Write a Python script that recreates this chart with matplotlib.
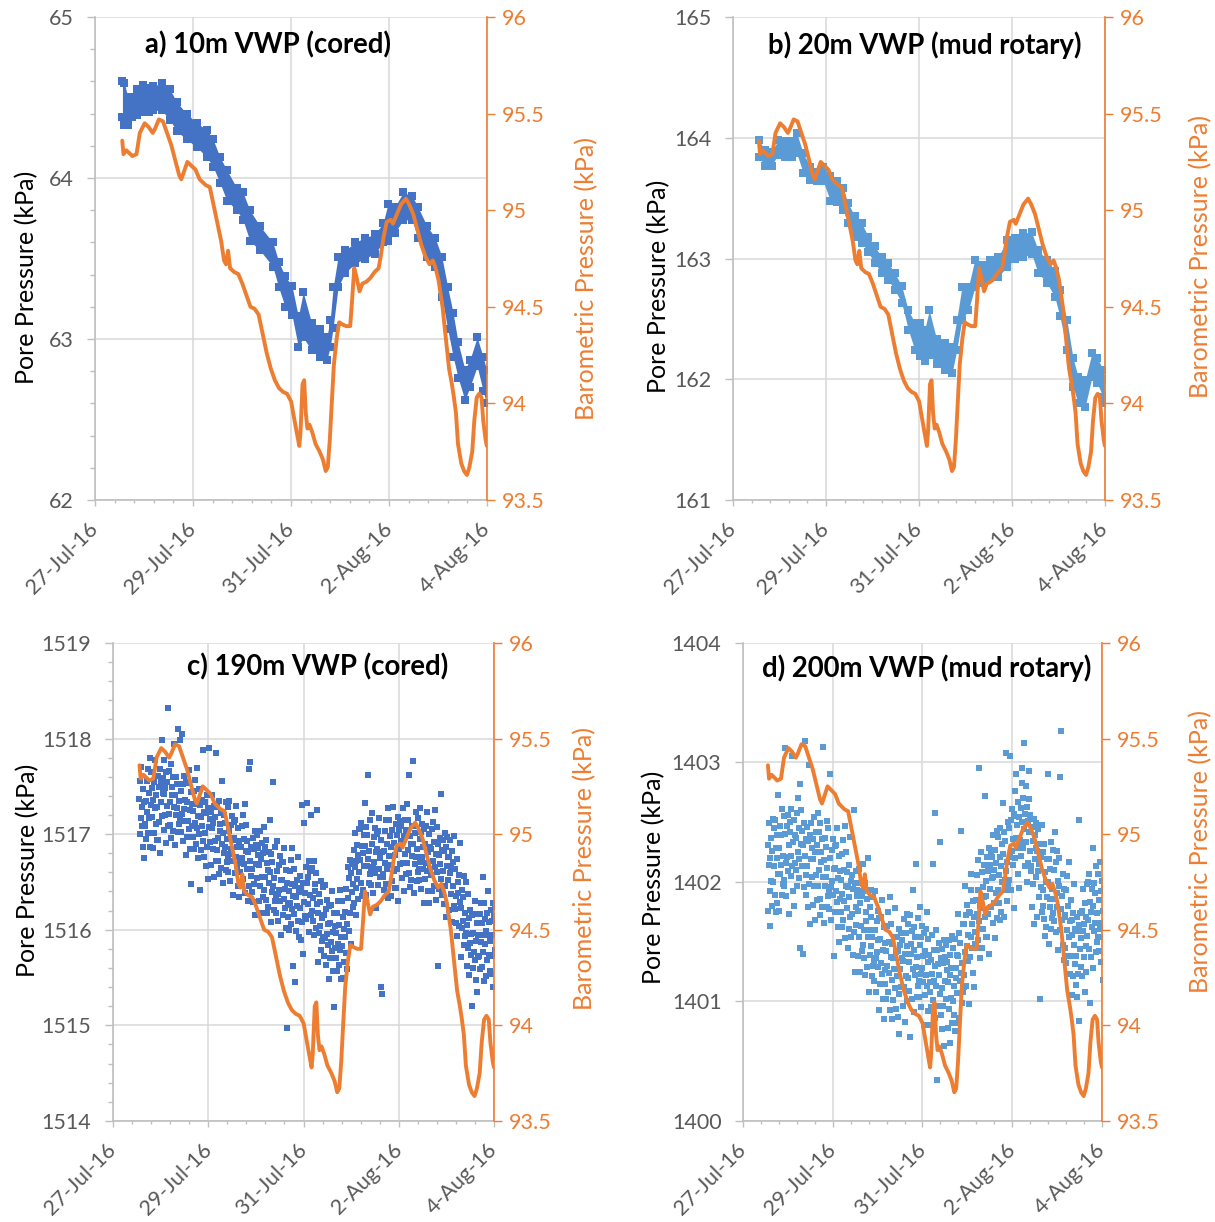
import numpy as np
import pandas as pd
import matplotlib
matplotlib.use("Agg")
import matplotlib.pyplot as plt
import matplotlib.dates as mdates
from matplotlib.ticker import FixedLocator, FormatStrFormatter, MultipleLocator

plt.rcParams['font.family'] = ['Lato', 'DejaVu Sans']

# ---------------------------------------------------------------- data
ORIGIN = pd.Timestamp('2016-07-27')          # day 0 of every time axis

# barometric pressure (days after 27-Jul-16 00:00, kPa)
baro_day = [0.556, 0.581, 0.640, 0.764, 0.847, 0.914, 1.013, 1.096, 1.179, 1.221,
            1.304, 1.387, 1.470, 1.553, 1.636, 1.719, 1.761, 1.844, 1.885, 1.968,
            2.051, 2.135, 2.259, 2.342, 2.409, 2.492, 2.575, 2.633, 2.674, 2.716,
            2.757, 2.841, 2.924, 3.007, 3.090, 3.173, 3.256, 3.339, 3.422, 3.505,
            3.588, 3.671, 3.754, 3.837, 3.920, 4.003, 4.045, 4.103, 4.169, 4.194,
            4.236, 4.269, 4.302, 4.336, 4.377, 4.435, 4.502, 4.585, 4.651, 4.709,
            4.751, 4.792, 4.834, 4.875, 4.934, 4.983, 5.042, 5.125, 5.208, 5.249,
            5.291, 5.332, 5.399, 5.457, 5.540, 5.623, 5.706, 5.789, 5.831, 5.889,
            5.955, 6.038, 6.080, 6.163, 6.246, 6.346, 6.412, 6.495, 6.578, 6.661,
            6.744, 6.827, 6.894, 6.952, 7.010, 7.093, 7.159, 7.226, 7.284, 7.326,
            7.367, 7.409, 7.475, 7.533, 7.591, 7.641, 7.699, 7.741, 7.791, 7.841,
            7.890, 7.924, 7.973, 7.998]
baro_kpa = [95.36, 95.29, 95.31, 95.28, 95.29, 95.40, 95.45, 95.43, 95.40, 95.42,
            95.47, 95.46, 95.40, 95.34, 95.26, 95.18, 95.16, 95.22, 95.25, 95.23,
            95.21, 95.16, 95.13, 95.12, 95.04, 94.94, 94.84, 94.74, 94.72, 94.79,
            94.70, 94.68, 94.67, 94.62, 94.56, 94.50, 94.49, 94.46, 94.36, 94.26,
            94.18, 94.12, 94.08, 94.06, 94.05, 94.01, 93.95, 93.87, 93.78, 93.85,
            94.10, 94.12, 93.95, 93.87, 93.89, 93.85, 93.79, 93.75, 93.71, 93.65,
            93.67, 93.81, 94.01, 94.20, 94.34, 94.42, 94.41, 94.40, 94.40, 94.54,
            94.70, 94.66, 94.58, 94.62, 94.63, 94.65, 94.68, 94.70, 94.76, 94.86,
            94.94, 94.95, 94.93, 94.98, 95.03, 95.06, 95.03, 94.98, 94.90, 94.82,
            94.76, 94.72, 94.74, 94.70, 94.64, 94.50, 94.34, 94.18, 94.10, 94.03,
            93.95, 93.79, 93.69, 93.65, 93.63, 93.67, 93.75, 93.91, 94.03, 94.05,
            94.03, 93.91, 93.81, 93.78]

# 10 m VWP (cored): lower / upper edge of the reading band
a_day = [0.56, 0.60, 0.67, 0.76, 0.85, 0.98, 1.10, 1.19, 1.36, 1.53,
         1.67, 1.87, 2.08, 2.28, 2.41, 2.55, 2.69, 2.89, 3.02, 3.16,
         3.37, 3.63, 3.75, 3.88, 4.02, 4.15, 4.25, 4.42, 4.59, 4.73,
         4.80, 4.86, 4.96, 5.10, 5.31, 5.51, 5.71, 5.88, 5.98, 6.12,
         6.29, 6.47, 6.59, 6.78, 6.94, 7.08, 7.20, 7.31, 7.41, 7.55,
         7.65, 7.80, 7.92, 7.99]
a_high = [64.60, 64.59, 64.50, 64.50, 64.55, 64.58, 64.56, 64.57, 64.59, 64.55,
          64.47, 64.40, 64.34, 64.30, 64.24, 64.13, 64.05, 63.94, 63.91, 63.80,
          63.70, 63.60, 63.48, 63.39, 63.33, 63.14, 63.29, 63.10, 63.06, 63.01,
          63.12, 63.32, 63.51, 63.55, 63.60, 63.63, 63.65, 63.72, 63.84, 63.82,
          63.91, 63.89, 63.82, 63.70, 63.63, 63.51, 63.32, 63.16, 62.98, 62.81,
          62.87, 63.01, 62.89, 62.81]
a_low = [64.38, 64.33, 64.33, 64.38, 64.39, 64.41, 64.41, 64.42, 64.42, 64.36,
         64.29, 64.24, 64.19, 64.13, 64.07, 63.97, 63.86, 63.80, 63.74, 63.61,
         63.55, 63.45, 63.32, 63.20, 63.15, 62.95, 63.01, 62.93, 62.89, 62.87,
         62.95, 63.07, 63.32, 63.41, 63.47, 63.50, 63.53, 63.60, 63.61, 63.66,
         63.74, 63.74, 63.63, 63.51, 63.45, 63.26, 63.06, 62.89, 62.76, 62.62,
         62.70, 62.83, 62.68, 62.60]

# 20 m VWP (mud rotary): lower / upper edge of the reading band
b_day = [0.55, 0.69, 0.83, 0.97, 1.12, 1.26, 1.37, 1.51, 1.66, 1.80,
         1.94, 2.09, 2.23, 2.37, 2.47, 2.62, 2.77, 2.91, 3.05, 3.20,
         3.34, 3.48, 3.63, 3.77, 3.91, 4.02, 4.12, 4.22, 4.38, 4.56,
         4.71, 4.81, 4.92, 5.06, 5.20, 5.35, 5.53, 5.70, 5.89, 6.06,
         6.24, 6.42, 6.56, 6.75, 6.92, 7.03, 7.18, 7.31, 7.42, 7.57,
         7.72, 7.83, 7.96, 8.00]
b_high = [163.98, 163.90, 163.88, 163.98, 163.97, 163.97, 164.04, 163.87, 163.76, 163.72,
          163.76, 163.68, 163.64, 163.58, 163.46, 163.35, 163.29, 163.18, 163.10, 163.01,
          162.96, 162.88, 162.77, 162.57, 162.47, 162.47, 162.41, 162.57, 162.33, 162.30,
          162.27, 162.49, 162.76, 162.76, 162.99, 162.95, 162.99, 163.01, 163.15, 163.17,
          163.21, 163.22, 163.07, 162.99, 162.90, 162.74, 162.49, 162.18, 162.02, 161.99,
          162.22, 162.18, 162.08, 162.00]
b_low = [163.84, 163.77, 163.77, 163.86, 163.84, 163.84, 163.87, 163.71, 163.65, 163.64,
         163.64, 163.48, 163.47, 163.40, 163.29, 163.18, 163.13, 163.05, 162.96, 162.88,
         162.82, 162.74, 162.63, 162.41, 162.24, 162.19, 162.15, 162.20, 162.13, 162.08,
         162.05, 162.24, 162.49, 162.57, 162.76, 162.80, 162.84, 162.85, 162.93, 163.00,
         163.01, 163.04, 162.88, 162.80, 162.68, 162.52, 162.24, 161.94, 161.80, 161.77,
         162.02, 161.97, 161.85, 161.80]

# deep VWPs: one reading every 15 minutes from the first logged time
deep_first_day = 0.55
deep_step_min = 15

# 190 m VWP (cored), kPa (each line = 3 hours)
c_pore = [
    1517.37, 1517.00, 1517.56, 1517.17, 1517.70, 1517.08, 1517.28, 1516.87, 1517.47, 1516.75, 1517.34, 1517.11,
    1517.08, 1517.35, 1516.95, 1517.56, 1517.23, 1517.68, 1517.01, 1517.43, 1517.17, 1517.80, 1516.86, 1517.30,
    1517.65, 1517.18, 1517.48, 1516.85, 1517.36, 1517.01, 1517.54, 1517.27, 1517.78, 1517.11, 1517.41, 1516.94,
    1517.28, 1517.61, 1516.94, 1517.49, 1517.13, 1517.68, 1516.80, 1517.54, 1517.34, 1517.98, 1517.19, 1517.43,
    1517.59, 1517.04, 1517.42, 1517.77, 1517.20, 1517.48, 1516.91, 1517.65, 1517.29, 1517.54, 1517.08, 1518.32,
    1517.21, 1517.66, 1517.34, 1517.10, 1517.73, 1516.96, 1517.49, 1517.41, 1517.03, 1517.60, 1517.28, 1517.94,
    1517.41, 1516.89, 1517.60, 1517.20, 1517.52, 1517.27, 1518.10, 1517.02, 1517.35, 1517.11, 1517.98, 1517.15,
    1517.02, 1517.45, 1518.05, 1517.21, 1516.93, 1517.52, 1517.26, 1517.61, 1517.14, 1517.36, 1516.78, 1517.55,
    1517.34, 1516.97, 1517.53, 1517.14, 1517.67, 1517.05, 1517.25, 1516.84, 1517.44, 1516.48, 1517.31, 1517.08,
    1516.97, 1517.24, 1516.84, 1517.45, 1517.12, 1517.57, 1516.90, 1517.32, 1517.06, 1517.69, 1516.75, 1517.19,
    1517.47, 1517.00, 1517.30, 1516.42, 1517.18, 1516.83, 1517.36, 1517.09, 1517.88, 1516.93, 1517.23, 1516.76,
    1517.01, 1517.34, 1516.67, 1517.22, 1516.86, 1517.41, 1516.53, 1517.27, 1517.07, 1517.90, 1516.92, 1517.16,
    1517.23, 1516.68, 1517.06, 1517.41, 1516.84, 1517.12, 1516.55, 1517.29, 1516.93, 1517.18, 1516.72, 1517.85,
    1516.83, 1517.28, 1516.96, 1516.72, 1517.35, 1516.58, 1517.11, 1517.03, 1516.65, 1517.22, 1516.90, 1517.56,
    1517.01, 1516.49, 1517.20, 1516.80, 1517.12, 1516.87, 1517.34, 1516.62, 1516.95, 1516.71, 1517.28, 1516.75,
    1516.60, 1517.03, 1517.35, 1516.79, 1516.51, 1517.10, 1516.84, 1517.19, 1516.72, 1516.94, 1516.36, 1517.13,
    1516.96, 1516.59, 1517.15, 1516.76, 1517.29, 1516.67, 1516.87, 1516.46, 1517.06, 1516.34, 1516.93, 1516.70,
    1516.60, 1516.87, 1516.47, 1517.08, 1516.75, 1517.20, 1516.53, 1516.95, 1516.69, 1517.32, 1516.38, 1516.82,
    1517.10, 1516.63, 1516.93, 1516.30, 1516.81, 1516.46, 1517.68, 1516.72, 1517.75, 1516.56, 1516.86, 1516.39,
    1516.63, 1516.96, 1516.29, 1516.84, 1516.48, 1517.03, 1516.15, 1516.89, 1516.69, 1516.99, 1516.54, 1516.78,
    1516.85, 1516.30, 1516.68, 1517.03, 1516.46, 1516.74, 1516.17, 1516.91, 1516.55, 1516.80, 1516.34, 1517.07,
    1516.42, 1516.87, 1516.55, 1516.31, 1516.94, 1516.17, 1516.70, 1516.62, 1516.24, 1516.81, 1516.49, 1517.15,
    1516.60, 1516.08, 1516.79, 1516.39, 1516.71, 1516.46, 1517.55, 1516.21, 1516.54, 1516.30, 1516.87, 1516.34,
    1516.18, 1516.61, 1516.93, 1516.37, 1516.09, 1516.68, 1516.42, 1516.77, 1516.30, 1516.52, 1515.94, 1516.71,
    1516.52, 1516.15, 1516.71, 1516.32, 1516.85, 1516.23, 1516.43, 1516.02, 1516.62, 1514.97, 1516.49, 1516.26,
    1516.13, 1516.40, 1516.00, 1516.61, 1516.28, 1516.73, 1516.06, 1516.48, 1516.22, 1516.85, 1515.62, 1516.35,
    1516.63, 1516.16, 1516.46, 1515.45, 1516.34, 1515.99, 1516.52, 1516.25, 1516.76, 1516.09, 1516.39, 1515.92,
    1516.23, 1516.56, 1515.89, 1516.44, 1516.08, 1517.30, 1515.75, 1516.49, 1516.29, 1517.12, 1516.14, 1516.38,
    1516.66, 1516.11, 1516.49, 1517.33, 1516.27, 1516.55, 1515.98, 1516.72, 1516.36, 1516.61, 1516.15, 1517.20,
    1516.20, 1516.65, 1516.33, 1516.09, 1516.72, 1515.95, 1516.48, 1516.40, 1516.02, 1516.59, 1516.27, 1517.25,
    1516.18, 1515.66, 1516.37, 1515.97, 1516.29, 1516.04, 1516.51, 1515.79, 1516.12, 1515.88, 1516.45, 1515.92,
    1515.72, 1516.15, 1516.47, 1515.91, 1515.63, 1516.22, 1515.96, 1516.31, 1515.84, 1516.06, 1515.48, 1516.25,
    1516.07, 1515.70, 1516.26, 1515.87, 1516.40, 1515.78, 1515.98, 1515.57, 1516.17, 1515.19, 1516.04, 1515.81,
    1515.70, 1515.97, 1515.57, 1516.18, 1515.85, 1516.30, 1515.63, 1516.05, 1515.79, 1516.42, 1515.48, 1515.92,
    1516.30, 1515.83, 1516.13, 1515.50, 1516.01, 1515.66, 1516.19, 1515.92, 1516.43, 1515.76, 1516.06, 1515.59,
    1516.33, 1516.66, 1515.99, 1516.54, 1516.18, 1516.73, 1515.85, 1516.59, 1516.39, 1516.69, 1516.24, 1516.48,
    1516.83, 1516.28, 1516.66, 1517.01, 1516.44, 1516.72, 1516.15, 1516.89, 1516.53, 1516.78, 1516.32, 1517.05,
    1516.60, 1517.05, 1516.73, 1516.49, 1517.12, 1516.35, 1516.88, 1516.80, 1516.42, 1516.99, 1516.67, 1517.33,
    1516.88, 1516.36, 1517.07, 1516.67, 1516.99, 1516.74, 1517.62, 1516.49, 1516.82, 1516.58, 1517.15, 1516.62,
    1516.47, 1516.90, 1517.22, 1516.66, 1516.38, 1516.97, 1516.71, 1517.06, 1516.59, 1516.81, 1516.23, 1517.00,
    1516.84, 1516.47, 1517.03, 1516.64, 1517.17, 1516.55, 1516.75, 1515.40, 1516.94, 1515.33, 1516.81, 1516.58,
    1516.55, 1516.82, 1516.42, 1517.03, 1516.70, 1517.15, 1516.48, 1516.90, 1516.64, 1517.27, 1516.33, 1516.77,
    1517.15, 1516.68, 1516.98, 1516.35, 1516.86, 1516.51, 1517.04, 1516.77, 1517.28, 1516.61, 1516.91, 1516.44,
    1516.78, 1517.11, 1516.44, 1516.99, 1516.63, 1517.18, 1516.30, 1517.04, 1516.84, 1517.14, 1516.69, 1516.93,
    1517.09, 1516.54, 1516.92, 1517.27, 1516.70, 1516.98, 1516.41, 1517.15, 1516.79, 1517.04, 1516.58, 1517.31,
    1516.70, 1517.15, 1516.83, 1516.59, 1517.62, 1516.45, 1516.98, 1516.90, 1516.52, 1517.09, 1516.77, 1517.76,
    1516.90, 1516.38, 1517.09, 1516.69, 1517.01, 1516.76, 1517.23, 1516.51, 1516.84, 1516.60, 1517.17, 1516.64,
    1516.52, 1516.95, 1517.27, 1516.71, 1516.43, 1517.02, 1516.76, 1517.11, 1516.64, 1516.86, 1516.28, 1517.05,
    1516.90, 1516.53, 1517.09, 1516.70, 1517.23, 1516.61, 1516.81, 1516.40, 1517.00, 1516.28, 1516.87, 1516.64,
    1516.57, 1516.84, 1516.40, 1517.05, 1516.72, 1517.13, 1516.46, 1516.92, 1516.66, 1517.25, 1516.31, 1516.79,
    1517.07, 1516.60, 1516.90, 1515.62, 1516.78, 1516.43, 1516.96, 1516.69, 1517.42, 1516.53, 1516.83, 1516.36,
    1516.61, 1516.94, 1516.27, 1516.82, 1516.46, 1517.01, 1516.13, 1516.87, 1516.67, 1516.97, 1516.52, 1516.76,
    1516.76, 1516.21, 1516.59, 1516.94, 1516.37, 1516.65, 1516.08, 1516.82, 1516.46, 1516.71, 1516.25, 1516.98,
    1516.22, 1516.63, 1516.35, 1516.07, 1516.74, 1515.93, 1516.50, 1516.38, 1516.04, 1516.57, 1516.29, 1516.91,
    1516.23, 1515.71, 1516.42, 1516.02, 1516.34, 1516.09, 1516.56, 1515.84, 1516.17, 1515.93, 1516.50, 1515.97,
    1515.62, 1516.05, 1516.37, 1515.81, 1515.53, 1516.12, 1515.86, 1516.21, 1515.74, 1515.96, 1515.20, 1516.15,
    1515.97, 1515.60, 1516.16, 1515.77, 1516.30, 1515.68, 1515.88, 1515.47, 1516.07, 1515.35, 1515.94, 1515.71,
    1515.72, 1515.95, 1515.59, 1516.16, 1515.87, 1516.28, 1515.61, 1516.07, 1515.77, 1516.55, 1515.46, 1515.94,
    1516.28, 1515.85, 1516.11, 1515.52, 1515.99, 1515.68, 1516.17, 1515.94, 1516.41, 1515.74, 1516.08, 1515.57,
    1515.88, 1516.21, 1515.54, 1516.09, 1515.73, 1516.28, 1515.40, 1516.14, 1515.94, 1516.24, 1515.79, 1516.03,
]

# 200 m VWP (mud rotary), kPa (each line = 3 hours)
d_pore = [
    1402.31, 1401.76, 1402.14, 1402.49, 1401.92, 1402.20, 1401.63, 1402.37, 1402.01, 1402.26, 1401.80, 1402.53,
    1402.00, 1402.45, 1402.13, 1401.89, 1402.52, 1401.75, 1402.28, 1402.20, 1401.82, 1402.39, 1402.07, 1402.73,
    1402.28, 1401.76, 1402.47, 1402.07, 1402.39, 1402.14, 1402.61, 1401.89, 1402.22, 1401.98, 1402.55, 1402.02,
    1401.97, 1402.40, 1403.12, 1402.16, 1401.88, 1402.47, 1402.21, 1402.56, 1402.09, 1402.31, 1401.73, 1402.50,
    1402.42, 1402.05, 1402.61, 1402.22, 1403.05, 1402.13, 1402.33, 1401.92, 1402.52, 1401.80, 1402.39, 1402.16,
    1402.10, 1402.37, 1401.97, 1402.58, 1402.25, 1402.70, 1402.03, 1402.45, 1402.19, 1402.82, 1401.45, 1402.32,
    1402.60, 1402.13, 1402.43, 1401.40, 1402.31, 1401.96, 1402.49, 1402.22, 1403.18, 1402.06, 1402.36, 1401.89,
    1402.13, 1402.46, 1401.79, 1402.34, 1401.98, 1402.98, 1401.65, 1402.39, 1402.19, 1402.49, 1402.04, 1402.28,
    1402.36, 1401.81, 1402.19, 1402.54, 1401.97, 1402.25, 1401.68, 1402.42, 1402.06, 1402.31, 1401.85, 1402.58,
    1401.97, 1402.42, 1402.10, 1401.86, 1402.49, 1401.72, 1402.25, 1402.17, 1401.79, 1402.36, 1402.04, 1403.13,
    1402.18, 1401.66, 1402.37, 1401.97, 1402.29, 1402.04, 1402.51, 1401.79, 1402.12, 1401.88, 1402.45, 1401.92,
    1401.77, 1402.20, 1402.90, 1401.96, 1401.68, 1402.27, 1402.01, 1402.36, 1401.89, 1402.11, 1401.38, 1402.30,
    1402.12, 1401.75, 1402.31, 1401.92, 1402.45, 1401.83, 1402.03, 1401.62, 1402.22, 1401.50, 1402.09, 1401.86,
    1401.75, 1402.02, 1401.62, 1402.23, 1401.90, 1402.35, 1401.68, 1402.10, 1401.84, 1402.47, 1401.53, 1401.97,
    1402.25, 1401.78, 1402.08, 1401.45, 1401.96, 1401.61, 1402.14, 1401.87, 1402.38, 1401.71, 1402.01, 1401.54,
    1401.73, 1402.06, 1401.39, 1401.94, 1401.58, 1402.60, 1401.25, 1401.99, 1401.79, 1402.09, 1401.64, 1401.88,
    1401.93, 1401.38, 1401.76, 1402.11, 1401.54, 1401.82, 1401.25, 1401.99, 1401.63, 1401.88, 1401.42, 1402.15,
    1401.47, 1401.92, 1401.60, 1401.36, 1401.99, 1401.22, 1401.75, 1401.67, 1401.29, 1401.86, 1401.54, 1402.20,
    1401.60, 1401.08, 1401.79, 1401.39, 1401.71, 1401.46, 1401.93, 1401.21, 1401.54, 1401.30, 1401.87, 1401.34,
    1401.17, 1401.60, 1401.92, 1401.36, 1401.08, 1401.67, 1401.41, 1401.76, 1401.29, 1401.51, 1400.93, 1401.70,
    1401.52, 1401.15, 1401.71, 1401.32, 1401.85, 1401.23, 1401.43, 1401.02, 1401.62, 1400.85, 1401.49, 1401.26,
    1401.15, 1401.42, 1401.02, 1401.63, 1401.30, 1401.75, 1401.08, 1401.50, 1401.24, 1401.87, 1400.93, 1401.37,
    1401.65, 1401.18, 1401.48, 1400.85, 1401.36, 1401.01, 1401.54, 1401.27, 1401.78, 1401.11, 1401.41, 1400.94,
    1401.21, 1401.54, 1400.87, 1401.42, 1401.06, 1401.61, 1400.73, 1401.47, 1401.27, 1401.57, 1401.12, 1401.36,
    1401.51, 1400.96, 1401.34, 1401.69, 1401.12, 1401.40, 1400.83, 1401.57, 1401.21, 1401.46, 1401.00, 1401.73,
    1401.20, 1401.65, 1401.33, 1401.09, 1401.72, 1400.70, 1401.48, 1401.40, 1401.02, 1401.59, 1401.27, 1401.93,
    1401.43, 1400.91, 1401.62, 1401.22, 1401.54, 1401.29, 1402.15, 1401.04, 1401.37, 1401.13, 1401.70, 1401.17,
    1401.04, 1401.47, 1401.79, 1401.23, 1400.95, 1401.54, 1401.28, 1401.63, 1401.16, 1401.38, 1400.80, 1401.57,
    1401.42, 1401.05, 1401.61, 1401.22, 1401.75, 1401.13, 1401.33, 1400.92, 1401.52, 1400.80, 1401.39, 1401.16,
    1401.08, 1401.35, 1400.95, 1401.56, 1401.23, 1402.15, 1401.01, 1401.43, 1401.17, 1402.58, 1400.86, 1401.30,
    1401.60, 1401.13, 1401.43, 1400.34, 1401.31, 1400.96, 1401.49, 1401.22, 1402.33, 1401.06, 1401.36, 1400.89,
    1401.11, 1401.44, 1400.77, 1401.32, 1400.96, 1401.51, 1400.63, 1401.37, 1401.17, 1401.47, 1401.02, 1401.26,
    1401.33, 1400.78, 1401.16, 1401.51, 1400.94, 1401.22, 1400.65, 1401.39, 1401.03, 1401.28, 1400.82, 1401.55,
    1401.00, 1401.45, 1401.13, 1400.89, 1401.52, 1400.75, 1401.28, 1401.20, 1400.82, 1401.39, 1401.07, 1401.73,
    1401.38, 1400.86, 1401.57, 1401.17, 1401.49, 1401.24, 1402.43, 1400.99, 1401.32, 1401.08, 1401.65, 1401.12,
    1401.22, 1401.65, 1401.97, 1401.41, 1401.13, 1401.72, 1401.46, 1401.81, 1401.34, 1401.56, 1400.98, 1401.75,
    1401.74, 1401.37, 1401.93, 1401.54, 1402.07, 1401.45, 1401.65, 1401.24, 1401.84, 1401.12, 1401.71, 1401.48,
    1401.58, 1401.85, 1401.45, 1402.06, 1401.73, 1402.18, 1401.51, 1401.93, 1401.67, 1402.95, 1401.36, 1401.80,
    1402.25, 1401.78, 1402.08, 1401.45, 1401.96, 1401.61, 1402.14, 1401.87, 1402.72, 1401.71, 1402.01, 1401.54,
    1401.88, 1402.21, 1401.54, 1402.09, 1401.73, 1402.28, 1401.40, 1402.14, 1401.94, 1402.24, 1401.79, 1402.03,
    1402.21, 1401.66, 1402.04, 1402.39, 1401.82, 1402.10, 1401.53, 1402.27, 1401.91, 1402.16, 1401.70, 1402.43,
    1401.93, 1402.38, 1402.06, 1401.82, 1402.45, 1401.68, 1402.21, 1402.13, 1401.75, 1402.32, 1402.00, 1402.66,
    1402.23, 1401.71, 1402.42, 1402.02, 1402.34, 1402.09, 1403.08, 1401.84, 1402.17, 1401.93, 1402.50, 1401.97,
    1402.02, 1402.45, 1403.05, 1402.21, 1401.93, 1402.52, 1402.26, 1402.61, 1402.14, 1402.36, 1401.78, 1402.55,
    1402.57, 1402.20, 1402.76, 1402.37, 1402.90, 1402.28, 1402.48, 1402.07, 1402.67, 1401.95, 1402.54, 1402.31,
    1402.35, 1402.62, 1402.22, 1402.83, 1402.50, 1402.95, 1402.28, 1402.70, 1402.44, 1403.16, 1402.13, 1402.57,
    1402.80, 1402.33, 1402.63, 1402.00, 1402.51, 1402.16, 1402.69, 1402.42, 1402.93, 1402.26, 1402.56, 1402.09,
    1402.13, 1402.46, 1401.79, 1402.34, 1401.98, 1402.53, 1401.65, 1402.39, 1402.19, 1402.49, 1402.04, 1402.28,
    1402.26, 1401.71, 1402.09, 1402.44, 1401.87, 1402.15, 1401.02, 1402.32, 1401.96, 1402.21, 1401.75, 1402.48,
    1401.80, 1402.25, 1401.93, 1401.69, 1402.32, 1401.55, 1402.08, 1402.00, 1401.62, 1402.19, 1401.87, 1402.90,
    1402.00, 1401.48, 1402.19, 1401.79, 1402.11, 1401.86, 1402.33, 1401.61, 1401.94, 1401.70, 1402.27, 1401.74,
    1401.67, 1402.10, 1402.42, 1401.86, 1401.58, 1402.17, 1401.91, 1402.26, 1401.79, 1402.01, 1401.43, 1402.20,
    1401.97, 1401.60, 1402.88, 1401.77, 1403.26, 1401.68, 1401.88, 1401.47, 1402.07, 1401.35, 1401.94, 1401.71,
    1401.45, 1401.72, 1401.32, 1401.93, 1401.60, 1402.05, 1401.38, 1401.80, 1401.54, 1402.17, 1401.23, 1401.67,
    1401.85, 1401.38, 1401.68, 1401.05, 1401.56, 1401.21, 1401.74, 1401.47, 1401.98, 1401.31, 1401.61, 1401.14,
    1401.38, 1401.71, 1401.04, 1401.59, 1401.23, 1402.52, 1400.84, 1401.64, 1401.44, 1401.74, 1401.29, 1401.53,
    1401.76, 1401.21, 1401.59, 1401.94, 1401.37, 1401.65, 1401.08, 1401.82, 1401.46, 1401.71, 1401.25, 1401.98,
    1401.55, 1402.00, 1401.68, 1401.44, 1402.07, 1400.99, 1401.83, 1401.75, 1401.37, 1401.94, 1401.62, 1402.28,
    1401.80, 1401.28, 1401.99, 1401.59, 1401.91, 1401.66, 1402.13, 1401.41, 1401.74, 1401.50, 1402.07, 1401.54,
    1401.42, 1401.85, 1402.17, 1401.61, 1401.33, 1401.92, 1401.66, 1402.01, 1401.54, 1401.76, 1401.18, 1401.95,
]

x_tick_days = [0, 2, 4, 6, 8]

# ---------------------------------------------------------------- helpers
T0 = mdates.date2num(ORIGIN)


def tnum(days):
    """Matplotlib date numbers for offsets (days) from ORIGIN."""
    return T0 + np.asarray(days, dtype=float)


def deep_days(n):
    return deep_first_day + np.arange(n) * deep_step_min / (24 * 60)


ORANGE = '#ED7D31'
GRID = '#D9D9D9'
SPINE = '#BFBFBF'
TICKTXT = '#595959'
DARK_BLUE = '#4472C4'
LIGHT_BLUE = '#5B9BD5'

tick_dates = [ORIGIN + pd.Timedelta(days=d) for d in x_tick_days]
x_tick_labels = [f"{d.day}-{d:%b-%y}" for d in tick_dates]

panels = [
    dict(rect=[0.0782, 0.5908, 0.3226, 0.3953], ylim=(62, 65), minor=True,
         title='a) 10m VWP (cored)', title_xy=(0.128, 0.942), color=DARK_BLUE,
         band=(a_day, a_low, a_high), lab_l=(-0.175, 0.46), lab_r=(1.255, 0.458)),
    dict(rect=[0.6033, 0.5908, 0.3062, 0.3953], ylim=(161, 165), minor=False,
         title='b) 20m VWP (mud rotary)', title_xy=(0.094, 0.942), color=LIGHT_BLUE,
         band=(b_day, b_low, b_high), lab_l=(-0.20, 0.443), lab_r=(1.256, 0.505)),
    dict(rect=[0.0930, 0.0827, 0.3136, 0.3912], ylim=(1514, 1519), minor=True,
         title='c) 190m VWP (cored)', title_xy=(0.194, 0.950), color=DARK_BLUE,
         cloud=c_pore, lab_l=(-0.224, 0.525), lab_r=(1.239, 0.529)),
    dict(rect=[0.6115, 0.0827, 0.2955, 0.3912], ylim=(1400, 1404), minor=False,
         title='d) 200m VWP (mud rotary)', title_xy=(0.053, 0.947), color=LIGHT_BLUE,
         cloud=d_pore, lab_l=(-0.248, 0.51), lab_r=(1.276, 0.563)),
]

# ---------------------------------------------------------------- figure
fig = plt.figure(figsize=(12.15, 12.22), dpi=100)
MARKER_S = 23
EDGE_S = 30
TICK_FS = 15.5
LABEL_FS = 18
TITLE_FS = 19.8

for p in panels:
    ax = fig.add_axes(p['rect'])
    ax2 = ax.twinx()

    # pore pressure
    if 'band' in p:
        day, low, high = p['band']
        x = tnum(day)
        ax.fill_between(x, low, high, color=p['color'], lw=0, zorder=2)
        ax.scatter(np.concatenate([x, x]), np.concatenate([low, high]),
                   marker='s', s=EDGE_S, color=p['color'], linewidths=0, zorder=2)
    else:
        vals = np.asarray(p['cloud'])
        ax.scatter(tnum(deep_days(len(vals))), vals, marker='s', s=MARKER_S,
                   color=p['color'], linewidths=0, zorder=2)

    # barometric pressure
    ax2.plot(tnum(baro_day), baro_kpa, color=ORANGE, lw=2.8,
             solid_joinstyle='round', solid_capstyle='round')

    # x axis
    ax.set_xlim(tnum(0), tnum(8))
    ax.xaxis.set_major_locator(FixedLocator(tnum(x_tick_days)))
    ax.xaxis.set_minor_locator(FixedLocator(tnum(np.arange(0, 8.01, 0.4))))
    ax.set_xticklabels(x_tick_labels)
    for lab in ax.get_xticklabels():
        lab.set_rotation(45)
        lab.set_ha('right')
        lab.set_va('center')
        lab.set_rotation_mode('anchor')

    # left axis
    lo, hi = p['ylim']
    ax.set_ylim(lo, hi)
    ax.yaxis.set_major_locator(MultipleLocator(1))
    ax.yaxis.set_major_formatter(FormatStrFormatter('%d'))
    if p['minor']:
        ax.yaxis.set_minor_locator(MultipleLocator(0.2))
    else:
        ax.yaxis.set_minor_locator(FixedLocator([]))

    ax.grid(True, which='major', color=GRID, lw=1.1, zorder=0)
    ax.set_axisbelow(True)
    for s in ('top', 'right'):
        ax.spines[s].set_visible(False)
    for s in ('left', 'bottom'):
        ax.spines[s].set_color(SPINE)
        ax.spines[s].set_linewidth(1.2)
    ax.tick_params(axis='y', which='major', direction='out', length=5.5, width=1,
                   color=SPINE, labelcolor=TICKTXT, labelsize=TICK_FS, pad=10)
    ax.tick_params(axis='y', which='minor', direction='out', length=3.5, width=1,
                   color=SPINE)
    ax.tick_params(axis='x', which='major', direction='out', length=4.5, width=1,
                   color=SPINE, labelcolor=TICKTXT, labelsize=TICK_FS, pad=14)
    ax.tick_params(axis='x', which='minor', direction='out', length=2.5, width=1,
                   color=SPINE)

    # right axis
    ax2.set_ylim(93.5, 96)
    ax2.yaxis.set_major_locator(MultipleLocator(0.5))
    ax2.yaxis.set_major_formatter(FormatStrFormatter('%g'))
    for s in ('top', 'left', 'bottom'):
        ax2.spines[s].set_visible(False)
    ax2.spines['right'].set_color(ORANGE)
    ax2.spines['right'].set_linewidth(1.2)
    ax2.tick_params(axis='y', which='major', direction='out', length=6, width=1,
                    color=ORANGE, labelcolor=ORANGE, labelsize=TICK_FS, pad=5)

    # labels and title
    ax.text(*p['lab_l'], 'Pore Pressure (kPa)', transform=ax.transAxes,
            rotation=90, ha='center', va='center', fontsize=LABEL_FS, color='black')
    ax.text(*p['lab_r'], 'Barometric Pressure (kPa)', transform=ax.transAxes,
            rotation=90, ha='center', va='center', fontsize=LABEL_FS, color=ORANGE)
    ax2.text(*p['title_xy'], p['title'], transform=ax.transAxes, ha='left',
             va='center', fontsize=TITLE_FS, fontweight='bold', color='black')

fig.savefig('out.png', dpi=100)
